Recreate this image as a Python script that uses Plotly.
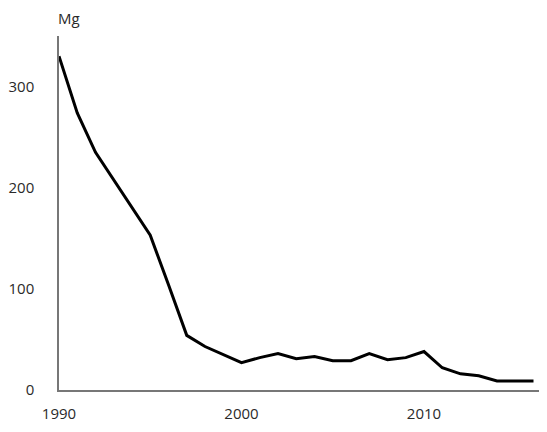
import plotly.graph_objects as go

years = list(range(1990, 2017))
values = [330, 274, 235, 208, 180, 153, 104, 54, 43, 35, 27, 32, 36, 31, 33, 29, 29, 36, 30, 32, 38, 22, 16, 14, 9, 9, 9]
y_ticks = [0, 100, 200, 300]
x_ticks = [1990, 2000, 2010]
unit = "Mg"

font = dict(family="Open Sans, Lato, sans-serif", size=15, color="#2a2a2a")

fig = go.Figure(go.Scatter(x=years, y=values, mode="lines",
                           line=dict(color="black", width=3), hoverinfo="skip"))

fig.update_layout(
    width=539, height=424,
    margin=dict(l=51, r=0, t=28, b=42),
    paper_bgcolor="white", plot_bgcolor="white",
    showlegend=False, font=font,
    xaxis=dict(range=[1990, 2016.74], tickvals=x_ticks, ticks="", showgrid=False,
               zeroline=False, showline=True, linecolor="#777777", linewidth=1.5,
               ticklabelstandoff=9),
    yaxis=dict(range=[0, 350], tickvals=y_ticks, ticks="", showgrid=False,
               zeroline=False, showline=True, linecolor="#777777", linewidth=1.5,
               ticklabelstandoff=20),
    annotations=[dict(text=unit, xref="paper", yref="paper", x=0, y=1, xanchor="left",
                      yanchor="middle", yshift=18, xshift=-3, showarrow=False,
                      font=dict(family=font["family"], size=15, color="#2a2a2a"))],
)

fig.write_html("out.html")
